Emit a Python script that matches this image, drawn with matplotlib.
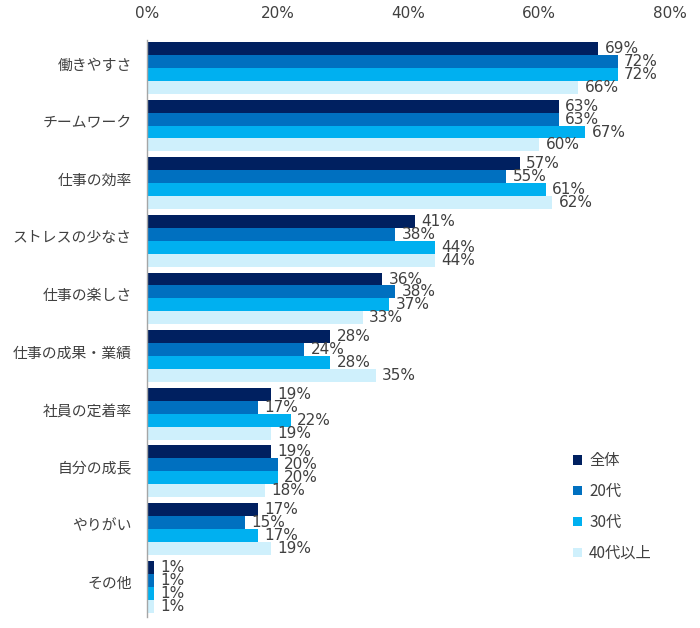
import matplotlib
matplotlib.use("Agg")
import matplotlib.pyplot as plt
import matplotlib.transforms as mtransforms
import numpy as np
from matplotlib.patches import Patch

plt.rcParams['font.family'] = ['DejaVu Sans', 'Noto Sans CJK JP']
cjk = ['Noto Sans CJK JP', 'DejaVu Sans']

categories = ["働きやすさ", "チームワーク", "仕事の効率", "ストレスの少なさ", "仕事の楽しさ",
              "仕事の成果・業績", "社員の定着率", "自分の成長", "やりがい", "その他"]
series_names = ["全体", "20代", "30代", "40代以上"]
v_all = [69, 63, 57, 41, 36, 28, 19, 19, 17, 1]
v_20 = [72, 63, 55, 38, 38, 24, 17, 20, 15, 1]
v_30 = [72, 67, 61, 44, 37, 28, 22, 20, 17, 1]
v_40 = [66, 60, 62, 44, 33, 35, 19, 18, 19, 1]
xticks = [0, 20, 40, 60, 80]
xtick_labels = ["0%", "20%", "40%", "60%", "80%"]

colors = ["#002060", "#0070c0", "#00b0f0", "#cff0fc"]
text_color = "#404040"

fig = plt.figure(figsize=(7.0, 6.28), dpi=100)
ax = fig.add_axes([0.21, 0.018, 0.747, 0.918])

series = [v_all, v_20, v_30, v_40]
n = len(categories)
y = np.arange(n)
h = 0.225
for i, vals in enumerate(series):
    offs = (i - 1.5) * h
    ax.barh(y + offs, vals, height=h, color=colors[i], edgecolor="none")
    for yy, v in zip(y + offs, vals):
        ax.text(v + 1.0, yy, f"{v}%", va="center", ha="left", fontsize=11,
                color=text_color)

ax.set_ylim(n - 0.5 + 0.02, -0.5 + 0.02)
ax.set_xlim(0, 80)
ax.set_yticks(y)
ax.set_yticklabels(categories, fontsize=10.7, color=text_color, family=cjk)
ax.set_xticks(xticks)
ax.set_xticklabels(xtick_labels, fontsize=11, color=text_color)
ax.xaxis.tick_top()
ax.tick_params(axis='x', length=0, pad=14)
ax.tick_params(axis='y', length=0, pad=11)
off = mtransforms.ScaledTranslation(0, 4 / 100, fig.dpi_scale_trans)
for lab in ax.get_yticklabels():
    lab.set_transform(lab.get_transform() + off)
for s in ["top", "right", "bottom"]:
    ax.spines[s].set_visible(False)
ax.spines["left"].set_color("#a6a6a6")
ax.spines["left"].set_linewidth(1)

handles = [Patch(facecolor=c, edgecolor="none") for c in colors]
leg = ax.legend(handles, series_names, loc="upper left", bbox_to_anchor=(0.815, 0.285),
                frameon=False, handlelength=0.55, handleheight=0.55,
                handletextpad=0.5, labelspacing=0.9, borderpad=0, borderaxespad=0,
                prop={'family': cjk, 'size': 11})
for t in leg.get_texts():
    t.set_color(text_color)

fig.savefig("out.png", dpi=100)
